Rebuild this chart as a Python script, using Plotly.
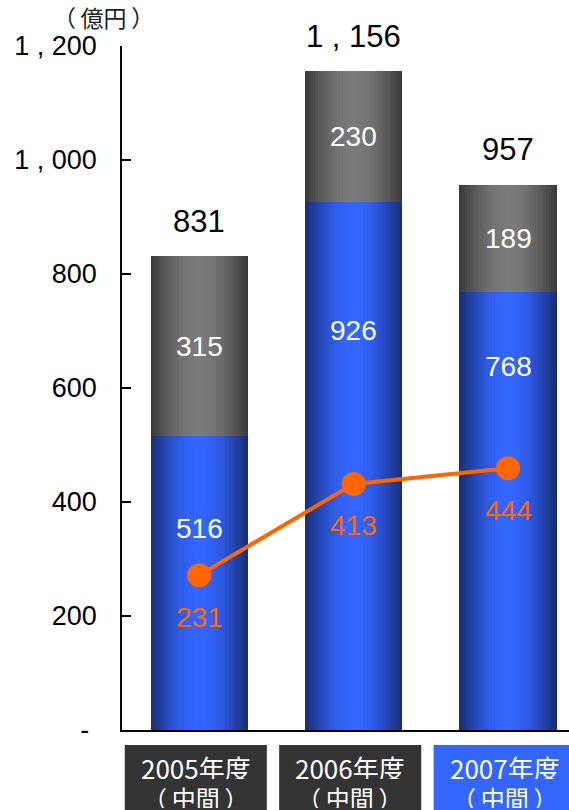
import plotly.graph_objects as go
import math

# ---- data -------------------------------------------------------------
categories = ["2005年度", "2006年度", "2007年度"]
period_note = "（\u2009中間\u2009）"
lower_values = [516, 926, 768]      # blue segment
upper_values = [315, 230, 189]      # gray segment
line_values = [231, 413, 444]       # orange line
totals = [a + b for a, b in zip(lower_values, upper_values)]

ytick_vals = [0, 200, 400, 600, 800, 1000, 1200]
ytick_text = ["- ", "200", "400", "600", "800", "1 , 000", "1 , 200"]
unit_label = "（\u2009億円\u2009）"

# ---- styling ----------------------------------------------------------
FONT = "Liberation Sans, Arial, Noto Sans CJK JP, sans-serif"
CJK_FONT = "Noto Sans CJK JP, sans-serif"
BAR_W = 0.63
N_LAYERS = 18
BLUE_EDGE, BLUE_MID = (24, 44, 115), (51, 102, 255)
GRAY_EDGE, GRAY_MID = (58, 58, 58), (122, 122, 122)
ORANGE = "#FF6600"
box_colors = ["#333333", "#333333", "#3366FF"]
lower_label_y = [354, 701, 637]   # heights of the blue-segment value labels

PLOT_BOTTOM, PLOT_H = 730, 684    # pixel geometry of the plotting area


def paper_y(px):
    return (PLOT_BOTTOM - px) / PLOT_H


def shade(edge, mid, u):
    f = math.sin(u * math.pi / 2)
    r, g, b = (round(e + (m - e) * f) for e, m in zip(edge, mid))
    return f"rgb({r},{g},{b})"


x = list(range(len(categories)))
fig = go.Figure()

# Cylinder-style shading: nested bars getting narrower and lighter toward the middle
for k in range(N_LAYERS):
    w = BAR_W * (1 - k / N_LAYERS)
    u = (k + 0.5) / N_LAYERS
    fig.add_trace(go.Bar(
        x=x, y=lower_values, width=w,
        marker=dict(color=shade(BLUE_EDGE, BLUE_MID, u), line=dict(width=0)),
        hoverinfo="skip", showlegend=False))
    fig.add_trace(go.Bar(
        x=x, y=upper_values, base=lower_values, width=w,
        marker=dict(color=shade(GRAY_EDGE, GRAY_MID, u), line=dict(width=0)),
        hoverinfo="skip", showlegend=False))

fig.add_trace(go.Scatter(
    x=x, y=line_values, yaxis="y2", mode="lines+markers",
    line=dict(color=ORANGE, width=4),
    marker=dict(color=ORANGE, size=24),
    hoverinfo="skip", showlegend=False))

ann = []
shapes = []
for i in x:
    # totals above bars
    ann.append(dict(x=i, y=totals[i], xref="x", yref="y", yanchor="middle",
                    yshift=35, showarrow=False,
                    text=f"{totals[i]:,}".replace(",", " , "),
                    font=dict(family=FONT, size=31, color="#000000")))
    # gray segment value
    ann.append(dict(x=i, y=lower_values[i] + upper_values[i] / 2, xref="x", yref="y",
                    showarrow=False, text=str(upper_values[i]),
                    font=dict(family=FONT, size=28, color="#FFFFFF")))
    # blue segment value
    ann.append(dict(x=i, y=lower_label_y[i], xref="x", yref="y",
                    showarrow=False, text=str(lower_values[i]),
                    font=dict(family=FONT, size=28, color="#FFFFFF")))
    # line value
    ann.append(dict(x=i, y=line_values[i], xref="x", yref="y2", yshift=-42,
                    showarrow=False, text=str(line_values[i]),
                    font=dict(family=FONT, size=28, color=ORANGE)))
    # category box with two text lines
    shapes.append(dict(type="rect", xref="x", yref="paper",
                       x0=i - 0.482, x1=i + 0.438,
                       y0=paper_y(745), y1=paper_y(830),
                       fillcolor=box_colors[i], line=dict(width=0), layer="above"))
    ann.append(dict(x=i - 0.022, y=paper_y(767), xref="x", yref="paper",
                    yanchor="middle", showarrow=False, text=categories[i],
                    height=24,
                    font=dict(family=CJK_FONT, size=26, color="#FFFFFF")))
    ann.append(dict(x=i - 0.022, y=paper_y(797), xref="x", yref="paper",
                    yanchor="middle", showarrow=False, text=period_note,
                    height=22,
                    font=dict(family=CJK_FONT, size=24, color="#FFFFFF")))

# unit label above the value axis
ann.append(dict(x=(156 - 122) / 447, y=paper_y(17), xref="paper", yref="paper",
                xanchor="right", yanchor="middle", showarrow=False,
                text=unit_label,
                font=dict(family=CJK_FONT, size=23, color="#222222")))

fig.update_layout(
    width=569, height=810,
    margin=dict(l=122, r=0, t=46, b=80),
    paper_bgcolor="white", plot_bgcolor="white",
    barmode="overlay", bargap=0,
    font=dict(family=FONT),
    xaxis=dict(range=[-0.5, 2.395], showgrid=False, zeroline=False,
               showticklabels=False, ticks="", showline=True,
               linecolor="#000000", linewidth=2),
    yaxis=dict(range=[0, 1200], tickvals=ytick_vals, ticktext=ytick_text,
               showgrid=False, zeroline=False, showline=True,
               linecolor="#000000", linewidth=1.5,
               ticks="inside", ticklen=9, tickcolor="#000000", tickwidth=1.5,
               ticklabelstandoff=18,
               tickfont=dict(family=FONT, size=27, color="#000000")),
    yaxis2=dict(range=[-77, 1285], overlaying="y", visible=False),
    annotations=ann,
    shapes=shapes,
)

fig.write_html("out.html")
